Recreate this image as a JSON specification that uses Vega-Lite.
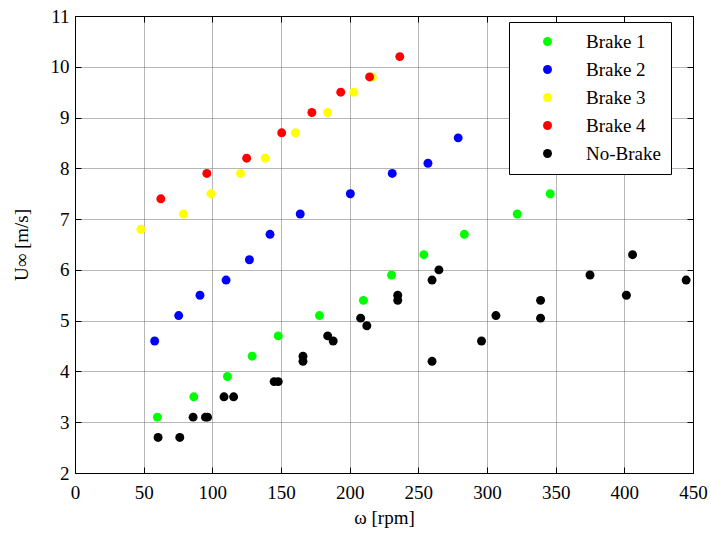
{
  "$schema": "https://vega.github.io/schema/vega-lite/v6.json",
  "width": 618,
  "height": 457,
  "autosize": {"type": "none"},
  "padding": {"left": 75, "top": 16, "right": 18, "bottom": 61},
  "background": "white",
  "config": {
    "font": "Liberation Serif",
    "view": {"stroke": "black", "strokeWidth": 1},
    "axis": {
      "labelFont": "Liberation Serif",
      "titleFont": "Liberation Serif",
      "labelFontSize": 19,
      "titleFontSize": 19,
      "titleFontWeight": "normal",
      "labelColor": "black",
      "titleColor": "black",
      "domainColor": "black",
      "tickColor": "black",
      "tickSize": -6,
      "labelFlush": false,
      "labelOverlap": false,
      "labelBound": false,
      "gridColor": "#6e6e6e",
      "gridDash": [1, 1],
      "gridOpacity": 1,
      "gridWidth": 1
    },
    "legend": {
      "orient": "none",
      "legendX": 434,
      "legendY": 6,
      "fillColor": "white",
      "strokeColor": "black",
      "strokeWidth": 1,
      "padding": 10,
      "rowPadding": 8,
      "labelFont": "Liberation Serif",
      "labelFontSize": 19,
      "labelColor": "black",
      "symbolSize": 80,
      "symbolType": "circle",
      "symbolStrokeWidth": 0,
      "symbolOpacity": 1,
      "symbolOffset": 19,
      "labelOffset": 29
    }
  },
  "data": {
    "values": [
      {"series": "Brake 1", "omega": 60, "u": 3.1},
      {"series": "Brake 1", "omega": 86.5, "u": 3.5},
      {"series": "Brake 1", "omega": 111, "u": 3.9},
      {"series": "Brake 1", "omega": 129, "u": 4.3},
      {"series": "Brake 1", "omega": 148, "u": 4.7},
      {"series": "Brake 1", "omega": 178, "u": 5.1},
      {"series": "Brake 1", "omega": 210, "u": 5.4},
      {"series": "Brake 1", "omega": 230.5, "u": 5.9},
      {"series": "Brake 1", "omega": 254, "u": 6.3},
      {"series": "Brake 1", "omega": 283.5, "u": 6.7},
      {"series": "Brake 1", "omega": 322, "u": 7.1},
      {"series": "Brake 1", "omega": 346, "u": 7.5},
      {"series": "Brake 2", "omega": 58, "u": 4.6},
      {"series": "Brake 2", "omega": 75.5, "u": 5.1},
      {"series": "Brake 2", "omega": 91, "u": 5.5},
      {"series": "Brake 2", "omega": 110, "u": 5.8},
      {"series": "Brake 2", "omega": 127, "u": 6.2},
      {"series": "Brake 2", "omega": 142, "u": 6.7},
      {"series": "Brake 2", "omega": 164, "u": 7.1},
      {"series": "Brake 2", "omega": 200.5, "u": 7.5},
      {"series": "Brake 2", "omega": 231, "u": 7.9},
      {"series": "Brake 2", "omega": 257, "u": 8.1},
      {"series": "Brake 2", "omega": 279, "u": 8.6},
      {"series": "Brake 3", "omega": 48, "u": 6.8},
      {"series": "Brake 3", "omega": 79, "u": 7.1},
      {"series": "Brake 3", "omega": 99, "u": 7.5},
      {"series": "Brake 3", "omega": 120.5, "u": 7.9},
      {"series": "Brake 3", "omega": 138.5, "u": 8.2},
      {"series": "Brake 3", "omega": 160.5, "u": 8.7},
      {"series": "Brake 3", "omega": 184, "u": 9.1},
      {"series": "Brake 3", "omega": 203, "u": 9.5},
      {"series": "Brake 3", "omega": 216.5, "u": 9.8},
      {"series": "Brake 4", "omega": 62.5, "u": 7.4},
      {"series": "Brake 4", "omega": 96, "u": 7.9},
      {"series": "Brake 4", "omega": 125, "u": 8.2},
      {"series": "Brake 4", "omega": 150.5, "u": 8.7},
      {"series": "Brake 4", "omega": 172.5, "u": 9.1},
      {"series": "Brake 4", "omega": 193.5, "u": 9.5},
      {"series": "Brake 4", "omega": 214.5, "u": 9.8},
      {"series": "Brake 4", "omega": 236.5, "u": 10.2},
      {"series": "No-Brake", "omega": 60.5, "u": 2.7},
      {"series": "No-Brake", "omega": 76.3, "u": 2.7},
      {"series": "No-Brake", "omega": 86, "u": 3.1},
      {"series": "No-Brake", "omega": 95, "u": 3.1},
      {"series": "No-Brake", "omega": 96.5, "u": 3.1},
      {"series": "No-Brake", "omega": 108.5, "u": 3.5},
      {"series": "No-Brake", "omega": 115.5, "u": 3.5},
      {"series": "No-Brake", "omega": 145, "u": 3.8},
      {"series": "No-Brake", "omega": 148, "u": 3.8},
      {"series": "No-Brake", "omega": 166, "u": 4.3},
      {"series": "No-Brake", "omega": 166, "u": 4.2},
      {"series": "No-Brake", "omega": 184, "u": 4.7},
      {"series": "No-Brake", "omega": 188, "u": 4.6},
      {"series": "No-Brake", "omega": 208, "u": 5.05},
      {"series": "No-Brake", "omega": 212.5, "u": 4.9},
      {"series": "No-Brake", "omega": 235, "u": 5.5},
      {"series": "No-Brake", "omega": 235, "u": 5.4},
      {"series": "No-Brake", "omega": 260, "u": 5.8},
      {"series": "No-Brake", "omega": 265, "u": 6.0},
      {"series": "No-Brake", "omega": 260, "u": 4.2},
      {"series": "No-Brake", "omega": 296, "u": 4.6},
      {"series": "No-Brake", "omega": 306.5, "u": 5.1},
      {"series": "No-Brake", "omega": 339, "u": 5.4},
      {"series": "No-Brake", "omega": 339, "u": 5.05},
      {"series": "No-Brake", "omega": 375, "u": 5.9},
      {"series": "No-Brake", "omega": 401.5, "u": 5.5},
      {"series": "No-Brake", "omega": 406, "u": 6.3},
      {"series": "No-Brake", "omega": 445, "u": 5.8}
    ]
  },
  "layer": [
    {
      "mark": {"type": "circle", "size": 80, "opacity": 1},
      "encoding": {
        "x": {
          "field": "omega",
          "type": "quantitative",
          "scale": {"domain": [0, 450], "nice": false, "zero": false},
          "axis": {
            "title": "ω [rpm]",
            "values": [0, 50, 100, 150, 200, 250, 300, 350, 400, 450],
            "grid": true,
            "labelPadding": 16,
            "titlePadding": 6
          }
        },
        "y": {
          "field": "u",
          "type": "quantitative",
          "scale": {"domain": [2, 11], "nice": false, "zero": false},
          "axis": {
            "title": "U∞ [m/s]",
            "values": [2, 3, 4, 5, 6, 7, 8, 9, 10, 11],
            "grid": true,
            "labelPadding": 12,
            "titlePadding": 19
          }
        },
        "color": {
          "field": "series",
          "type": "nominal",
          "scale": {
            "domain": ["Brake 1", "Brake 2", "Brake 3", "Brake 4", "No-Brake"],
            "range": ["#00ff00", "#0000ff", "#ffff00", "#ff0000", "#000000"]
          },
          "legend": {"title": null}
        }
      }
    },
    {
      "mark": {"type": "circle", "opacity": 0},
      "encoding": {
        "x": {
          "field": "omega",
          "type": "quantitative",
          "scale": {"domain": [0, 450], "nice": false, "zero": false},
          "axis": {
            "orient": "top",
            "title": null,
            "labels": false,
            "grid": false,
            "values": [0, 50, 100, 150, 200, 250, 300, 350, 400, 450]
          }
        },
        "y": {
          "field": "u",
          "type": "quantitative",
          "scale": {"domain": [2, 11], "nice": false, "zero": false},
          "axis": {
            "orient": "right",
            "title": null,
            "labels": false,
            "grid": false,
            "values": [2, 3, 4, 5, 6, 7, 8, 9, 10, 11]
          }
        }
      }
    }
  ],
  "resolve": {"axis": {"x": "independent", "y": "independent"}}
}
